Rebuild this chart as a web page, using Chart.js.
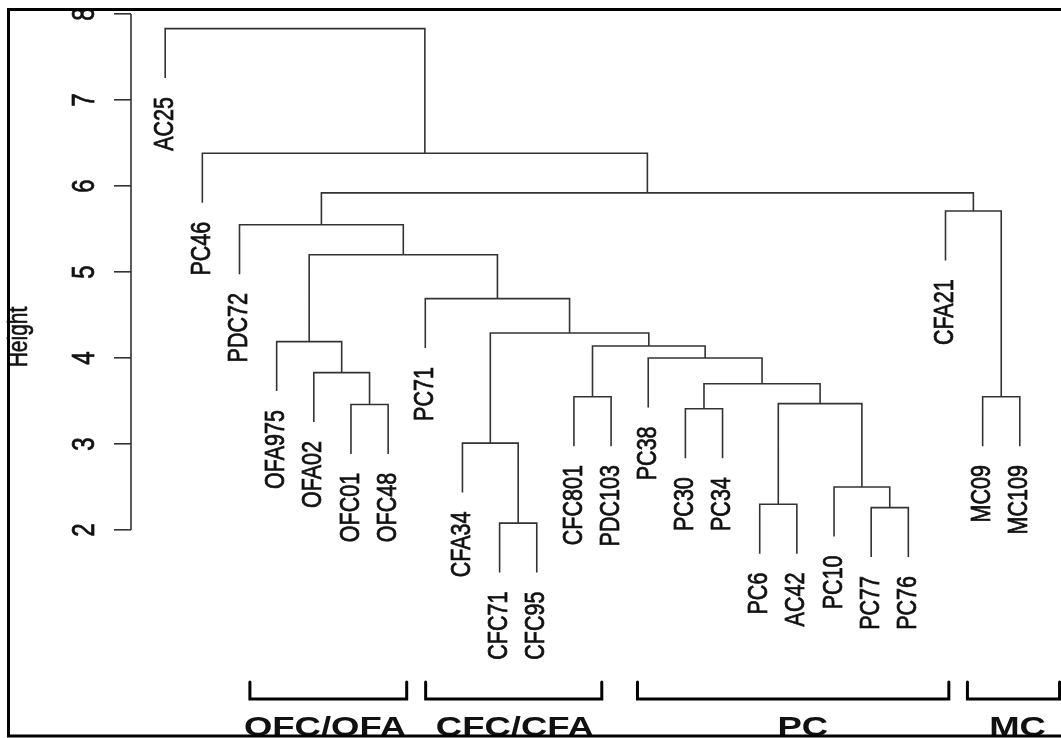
<!DOCTYPE html>
<html lang="en">
<head>
  <meta charset="UTF-8" />
  <title>Dendrogram</title>
  <style>
    body { margin: 0; background: #fff; }
    .chart-box { width: 1061px; height: 738px; position: relative; }
  </style>
</head>
<body>
  <div class="chart-box"><canvas id="dendro"></canvas></div>

  <script src="https://cdn.jsdelivr.net/npm/chart.js@4.4.1/dist/chart.umd.min.js"></script>
  <script>
    // leaves in plot order (x = 1..24)
    const leafLabels = ['AC25', 'PC46', 'PDC72', 'OFA975', 'OFA02', 'OFC01', 'OFC48', 'PC71',
      'CFA34', 'CFC71', 'CFC95', 'CFC801', 'PDC103', 'PC38', 'PC30', 'PC34',
      'PC6', 'AC42', 'PC10', 'PC77', 'PC76', 'CFA21', 'MC09', 'MC109'];

    // merge steps like R's hclust: negative = leaf number, positive = earlier step
    const mergeLeft   = [-10, -20, -17, -19, -9, -15, -6, 3, -12, -23, 6, -5, -14, 9, -4, 5, -8, 15, -3, -22, 19, -2, -1];
    const mergeRight  = [-11, -21, -18, 2, 1, -16, -7, 4, -13, -24, 8, 7, 11, 13, 12, 14, 16, 17, 18, 10, 20, 21, 22];
    const mergeHeight = [2.08, 2.26, 2.30, 2.50, 3.01, 3.41, 3.46, 3.47, 3.55, 3.55, 3.70, 3.83,
      4.00, 4.14, 4.19, 4.29, 4.69, 5.20, 5.55, 5.71, 5.92, 6.38, 7.83];

    const yTicks = [2, 3, 4, 5, 6, 7, 8];

    // group brackets under the tree (x in leaf units)
    const groupNames  = ['OFC/OFA', 'CFC/CFA', 'PC', 'MC'];
    const groupFrom   = [3.28, 8.01, 13.71, 22.59];
    const groupTo     = [7.50, 12.75, 22.09, 25.07];
    const groupLabelX = [5.30, 10.41, 18.16, 23.94];

    // build the U-shaped links
    const hang = 0.1 * (Math.max(...mergeHeight) - Math.min(...mergeHeight));
    const nodeX = [];
    const leafEnd = [];
    const segs = [];
    function childPos(ref, h) {
      if (ref < 0) {
        leafEnd[-ref - 1] = h - hang;
        return { x: -ref, y: h - hang };
      }
      return { x: nodeX[ref - 1], y: mergeHeight[ref - 1] };
    }
    mergeHeight.forEach((h, i) => {
      const a = childPos(mergeLeft[i], h);
      const b = childPos(mergeRight[i], h);
      nodeX[i] = (a.x + b.x) / 2;
      segs.push({ x: a.x, y: a.y }, { x: a.x, y: h }, { x: b.x, y: h }, { x: b.x, y: b.y }, { x: b.x, y: null });
    });

    const textStretch = 1.28;
    const fontFam = '"Liberation Sans", Arial, sans-serif';

    function stretchText(ctx, text, x, y, font, align, baseline, rotate, weight) {
      ctx.save();
      ctx.translate(x, y);
      ctx.scale(textStretch, 1);
      if (rotate) ctx.rotate(-Math.PI / 2);
      ctx.font = font;
      ctx.textAlign = align;
      ctx.textBaseline = baseline;
      ctx.fillStyle = '#111';
      ctx.fillText(text, 0, 0);
      if (weight) {
        ctx.strokeStyle = '#111';
        ctx.lineWidth = weight;
        ctx.strokeText(text, 0, 0);
      }
      ctx.restore();
    }

    const dendroText = {
      id: 'dendroText',
      afterDraw(chart) {
        const ctx = chart.ctx;
        const xs = chart.scales.x, ys = chart.scales.y;
        const area = chart.chartArea;

        // axis line only between first and last tick
        ctx.save();
        ctx.strokeStyle = '#333';
        ctx.lineWidth = 1.6;
        ctx.beginPath();
        ctx.moveTo(area.left, ys.getPixelForValue(yTicks[0]));
        ctx.lineTo(area.left, ys.getPixelForValue(yTicks[yTicks.length - 1]));
        ctx.stroke();
        ctx.restore();

        // tick labels and axis title
        ys.ticks.forEach(t => {
          stretchText(ctx, String(t.value), 86, ys.getPixelForValue(t.value), '24px ' + fontFam, 'center', 'middle', true, 0.6);
        });
        stretchText(ctx, 'Height', 20, 337, '21px ' + fontFam, 'center', 'middle', true, 0.5);

        // leaf labels
        leafLabels.forEach((lab, i) => {
          const px = xs.getPixelForValue(i + 1);
          const py = ys.getPixelForValue(leafEnd[i]) + 19;
          stretchText(ctx, lab, px, py, '21.5px ' + fontFam, 'right', 'middle', true, 0.6);
        });

        // group brackets
        ctx.save();
        ctx.strokeStyle = '#000';
        ctx.lineWidth = 3;
        ctx.lineCap = 'round';
        ctx.lineJoin = 'miter';
        groupNames.forEach((name, i) => {
          const x1 = xs.getPixelForValue(groupFrom[i]);
          const x2 = xs.getPixelForValue(groupTo[i]);
          ctx.beginPath();
          ctx.moveTo(x1, 682);
          ctx.lineTo(x1, 699);
          ctx.lineTo(x2, 699);
          ctx.lineTo(x2, 682);
          ctx.stroke();
          stretchText(ctx, name, xs.getPixelForValue(groupLabelX[i]), 736, 'bold 28.5px ' + fontFam, 'center', 'alphabetic', false, 0);
        });
        ctx.restore();

        // outer frame
        ctx.save();
        ctx.strokeStyle = '#000';
        ctx.lineWidth = 3;
        ctx.beginPath();
        ctx.moveTo(1061, 9.5);
        ctx.lineTo(8.5, 9.5);
        ctx.lineTo(8.5, 736);
        ctx.lineTo(1061, 736);
        ctx.stroke();
        ctx.restore();
      }
    };

    const ctx = document.getElementById('dendro').getContext('2d');
    new Chart(ctx, {
      type: 'scatter',
      data: {
        datasets: [{
          data: segs,
          showLine: true,
          spanGaps: false,
          borderColor: '#333',
          borderWidth: 1.6,
          pointRadius: 0,
          pointHoverRadius: 0
        }]
      },
      options: {
        responsive: true,
        maintainAspectRatio: false,
        animation: false,
        layout: { padding: { left: 0, right: 7, top: 14, bottom: 79 } },
        plugins: {
          legend: { display: false },
          tooltip: { enabled: false }
        },
        scales: {
          x: { type: 'linear', min: 0.08, max: 24.92, display: false },
          y: {
            min: 0.5,
            max: 8,
            afterFit: s => { s.width = 131; },
            afterBuildTicks: s => { s.ticks = yTicks.map(v => ({ value: v })); },
            border: { display: false },
            grid: { drawOnChartArea: false, drawTicks: true, tickLength: 17, color: '#333', lineWidth: 1.6 },
            ticks: { display: false }
          }
        }
      },
      plugins: [dendroText]
    });
  </script>
</body>
</html>
